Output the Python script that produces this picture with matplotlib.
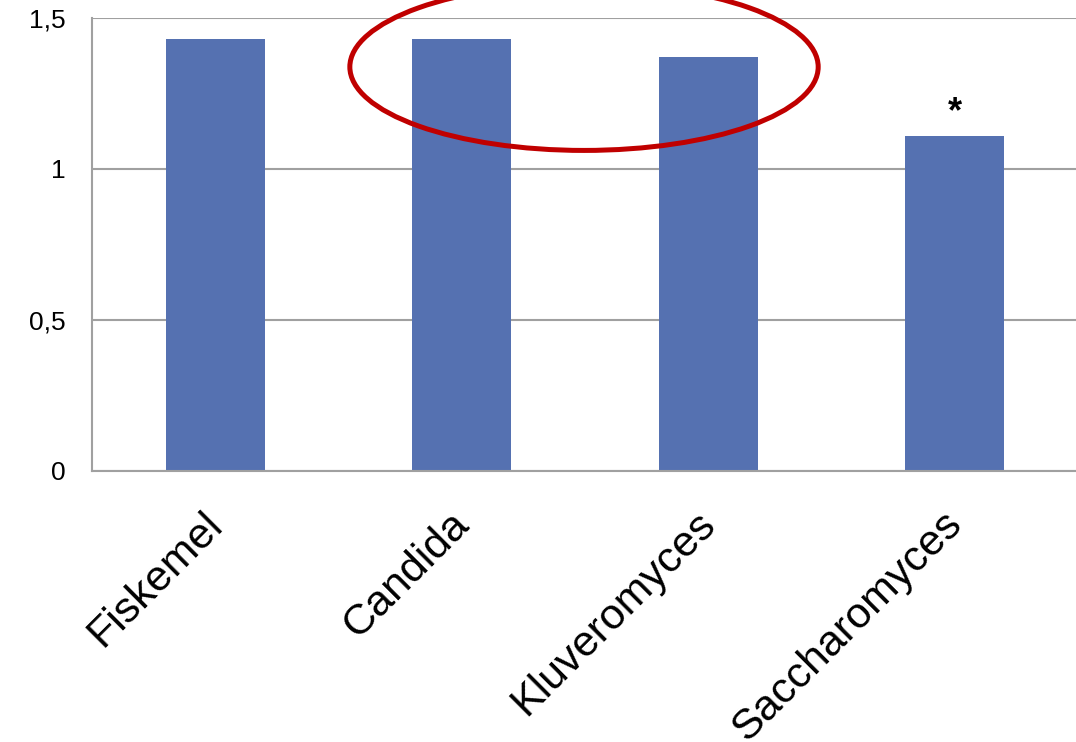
import matplotlib
matplotlib.use("Agg")
import matplotlib.pyplot as plt
import matplotlib.transforms as mtransforms
from matplotlib.patches import Ellipse

# Data
categories = ["Fiskemel", "Candida", "Kluveromyces", "Saccharomyces"]
values = [1.43, 1.43, 1.37, 1.11]
significance = ["", "", "", "*"]
y_ticks = [0, 0.5, 1, 1.5]
y_tick_labels = ["0", "0,5", "1", "1,5"]

plt.rcParams["font.family"] = ["Liberation Sans", "DejaVu Sans"]

fig = plt.figure(figsize=(10.76, 7.42), dpi=100)
ax = fig.add_axes([92 / 1076, (742 - 471) / 742, 986 / 1076, (471 - 18) / 742])

x = list(range(len(categories)))
bars = ax.bar(x, values, width=0.4, color="#5571B1", zorder=2)

ax.set_xlim(-0.5, len(categories) - 0.5)
ax.set_ylim(0, 1.5)
ax.set_yticks(y_ticks)
ax.set_yticklabels(y_tick_labels, fontsize=19)
ax.tick_params(axis="y", length=0, pad=19)
ax.tick_params(axis="x", length=0, pad=8)
ax.set_xticks(x)
ax.set_xticklabels(categories, fontsize=31, rotation=45, ha="right",
                   va="top", rotation_mode="anchor")

# nudge the slanted category labels down and to the left
shift = mtransforms.ScaledTranslation(-13 / 100, -22 / 100, fig.dpi_scale_trans)
for lbl in ax.get_xticklabels():
    lbl.set_transform(lbl.get_transform() + shift)

ax.yaxis.grid(True, color="#A0A0A0", linewidth=1.5)
ax.set_axisbelow(True)
for side in ("top", "right"):
    ax.spines[side].set_visible(False)
for side in ("left", "bottom"):
    ax.spines[side].set_color("#A0A0A0")
    ax.spines[side].set_linewidth(1.5)

# significance markers above bars
for xi, v, s in zip(x, values, significance):
    if s:
        ax.annotate(s, (xi, v), xytext=(0, 4), textcoords="offset points",
                    ha="center", va="bottom", fontsize=26, fontweight="bold")

# highlight around the yeast groups
ell = Ellipse((1.496, 1.338), 1.90, 0.553, fill=False, edgecolor="#C00000",
              linewidth=3.6, clip_on=False, zorder=3)
ax.add_patch(ell)

fig.savefig("out.png", dpi=100, facecolor="white")
